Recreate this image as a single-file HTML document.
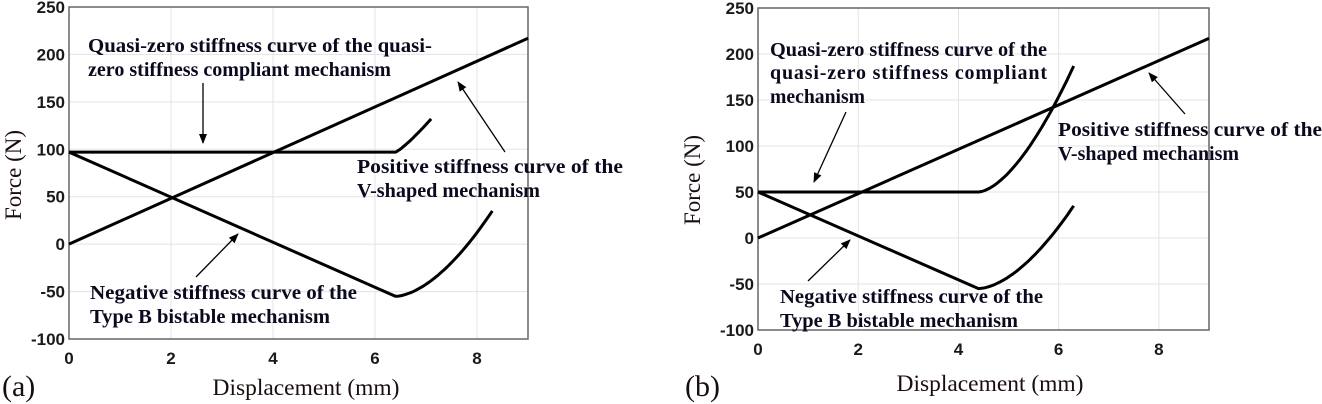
<!DOCTYPE html>
<html><head><meta charset="utf-8"><style>
html,body{margin:0;padding:0;background:#fff;}
svg{display:block}
.t{font-family:"Liberation Sans",Arial,sans-serif;font-weight:bold;font-size:17px;fill:#1a1a1a}
.a{font-family:"Liberation Serif",serif;font-weight:bold;font-size:20px;fill:#0a0a1e}
.lab{font-family:"Liberation Serif",serif;font-size:23px;fill:#1a0d0d}
</style></head><body>
<svg id="s" width="1322" height="404" xmlns="http://www.w3.org/2000/svg">
<defs><marker id="ar" markerWidth="10" markerHeight="8" refX="9" refY="4" orient="auto" markerUnits="userSpaceOnUse"><path d="M0,0 L10,4 L0,8 z" fill="#000"/></marker></defs>
<g id="g"></g>
<!-- texts (a) -->
<text class="a" x="88" y="52" textLength="344" lengthAdjust="spacingAndGlyphs">Quasi-zero stiffness curve of the quasi-</text>
<text class="a" x="88" y="76" textLength="303" lengthAdjust="spacingAndGlyphs">zero stiffness compliant mechanism</text>
<text class="a" x="357" y="173" textLength="266" lengthAdjust="spacingAndGlyphs">Positive stiffness curve of the</text>
<text class="a" x="357" y="197" textLength="183" lengthAdjust="spacingAndGlyphs">V-shaped mechanism</text>
<text class="a" x="90" y="299" textLength="267" lengthAdjust="spacingAndGlyphs">Negative stiffness curve of the</text>
<text class="a" x="90" y="323" textLength="240" lengthAdjust="spacingAndGlyphs">Type B  bistable mechanism</text>
<text class="lab" x="2" y="396" style="font-size:30px">(a)</text>
<text class="lab" x="306" y="395" text-anchor="middle" textLength="187" lengthAdjust="spacingAndGlyphs">Displacement (mm)</text>
<text class="lab" transform="translate(21,175) rotate(-90)" text-anchor="middle" textLength="90" lengthAdjust="spacingAndGlyphs">Force (N)</text>
<!-- texts (b) -->
<text class="a" x="770" y="56" textLength="277" lengthAdjust="spacingAndGlyphs">Quasi-zero stiffness curve of the</text>
<text class="a" x="770" y="79" textLength="277" lengthAdjust="spacing">quasi-zero   stiffness   compliant</text>
<text class="a" x="770" y="103" textLength="95" lengthAdjust="spacingAndGlyphs">mechanism</text>
<text class="a" x="1058" y="136" textLength="264" lengthAdjust="spacingAndGlyphs">Positive stiffness curve of the</text>
<text class="a" x="1058" y="160" textLength="181" lengthAdjust="spacingAndGlyphs">V-shaped mechanism</text>
<text class="a" x="780" y="303" textLength="263" lengthAdjust="spacingAndGlyphs">Negative stiffness curve of the</text>
<text class="a" x="780" y="327" textLength="238" lengthAdjust="spacingAndGlyphs">Type B  bistable mechanism</text>
<text class="lab" x="685" y="396" style="font-size:30px">(b)</text>
<text class="lab" x="990" y="391" text-anchor="middle" textLength="187" lengthAdjust="spacingAndGlyphs">Displacement (mm)</text>
<text class="lab" transform="translate(700,180) rotate(-90)" text-anchor="middle" textLength="90" lengthAdjust="spacingAndGlyphs">Force (N)</text>
</svg>
<script>
var g=document.getElementById('g'),NS='http://www.w3.org/2000/svg';
function el(n,a){var e=document.createElementNS(NS,n);for(var k in a)e.setAttribute(k,a[k]);g.appendChild(e);return e;}
function chart(x0,x9,yt,yb,C){
 var X=function(v){return x0+(x9-x0)*v/9},Y=function(v){return yb-(yb-yt)*(v+100)/350};
 for(var i=2;i<=8;i+=2)el('line',{x1:X(i),x2:X(i),y1:yt,y2:yb,stroke:'#e3e3e3','stroke-width':1});
 for(var v=-50;v<=200;v+=50)el('line',{x1:x0,x2:x9,y1:Y(v),y2:Y(v),stroke:'#e3e3e3','stroke-width':1});
 el('rect',{x:x0,y:yt,width:x9-x0,height:yb-yt,fill:'none',stroke:'#666','stroke-width':1.5});
 for(var v=-100;v<=250;v+=50){var t=el('text',{x:x0-4,y:Y(v)+6,'text-anchor':'end','class':'t'});t.textContent=v;}
 for(var i=0;i<=8;i+=2){var t=el('text',{x:X(i),y:yb+25,'text-anchor':'middle','class':'t'});t.textContent=i;}
 function path(pts){var d='';pts.forEach(function(p,i){d+=(i?'L':'M')+X(p[0]).toFixed(1)+','+Y(p[1]).toFixed(1)});el('path',{d:d,fill:'none',stroke:'#000','stroke-width':3,'stroke-linejoin':'round'});}
 path([[0,0],[9,217]]);
 var q=[[0,C.q],[C.xb,C.q]];for(var i=1;i<=30;i++){var u=i/30;q.push([C.xb+(C.qe[0]-C.xb)*u,C.q+(C.qe[1]-C.q)*Math.pow(u,C.qp)]);}path(q);
 var n=[[0,C.q],[C.xb,-55]];for(var i=1;i<=30;i++){var u=i/30;n.push([C.xb+(C.ne[0]-C.xb)*u,-55+(C.ne[1]+55)*Math.pow(u,1.7)]);}path(n);
 C.ar.forEach(function(a){el('line',{x1:a[0],y1:a[1],x2:a[2],y2:a[3],stroke:'#000','stroke-width':1.3,'marker-end':'url(#ar)'});});
}
chart(69,528,7,339,{q:97,xb:6.4,qe:[7.1,132],qp:1.2,ne:[8.3,35],ar:[[203,83,203,143],[505,152,458,82],[196,277,238,234]]});
chart(758,1209,8,330,{q:50,xb:4.4,qe:[6.3,187],qp:1.63,ne:[6.3,35],ar:[[846,112,814,182],[1185,114,1149,73],[808,281,850,240]]});
</script>
</body></html>
